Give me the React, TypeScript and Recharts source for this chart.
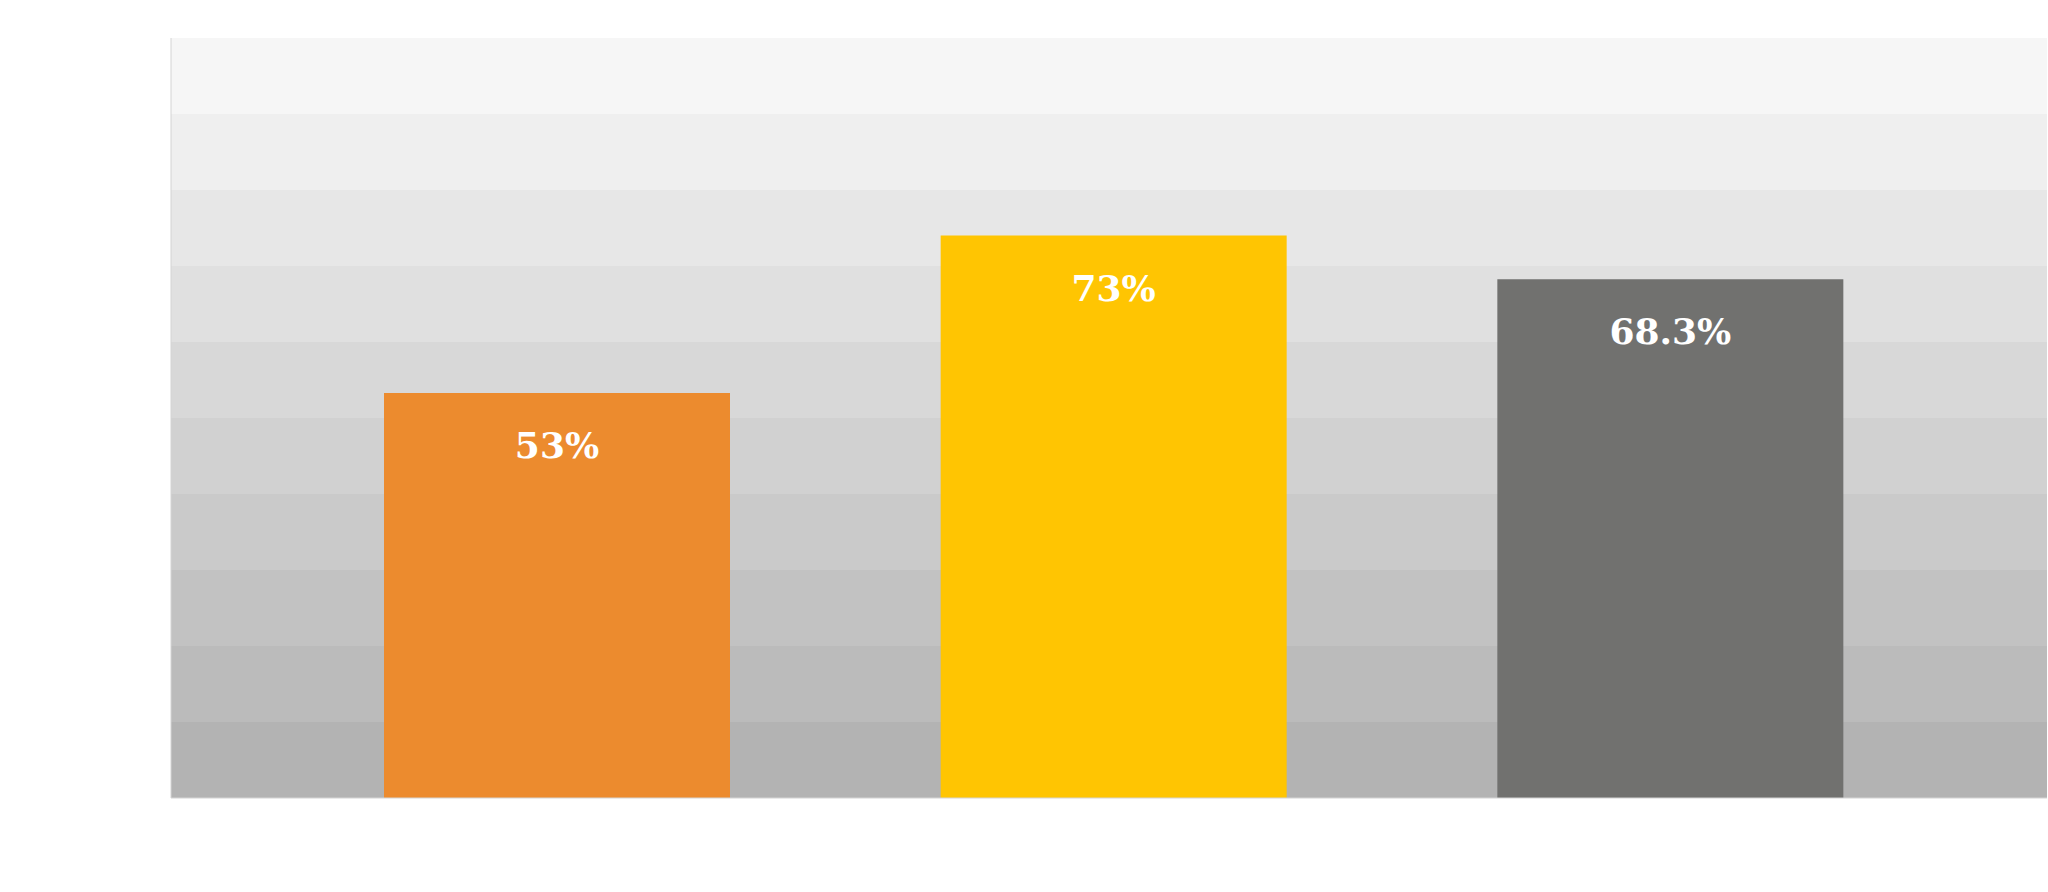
import React from 'react';
import { BarChart, Bar, XAxis, YAxis, CartesianGrid, Cell, LabelList } from 'recharts';

// categories have no visible names in the picture
const categories = ['A', 'B', 'C'];
const values = [53.3, 74, 68.25];
const valueLabels = ['53%', '73%', '68.3%'];
const barColors = ['#EC8B2E', '#FFC502', '#71716F'];
const yTicks = [0, 10, 20, 30, 40, 50, 60, 70, 80, 90, 100];
// stripe colours from top to bottom
const bandColors = ['#f6f6f6', '#efefef', '#e7e7e7', '#e0e0e0', '#d8d8d8', '#d1d1d1', '#cacaca', '#c2c2c2', '#bbbbbb', '#b3b3b3'];

const chartData = categories.map((name, i) => ({ name, value: values[i], label: valueLabels[i] }));

function BarLabel(props: any) {
  const { x, y, width, value } = props;
  return (
    <text
      x={x + width / 2}
      y={y + 52}
      textAnchor="middle"
      dominantBaseline="central"
      fill="#ffffff"
      fontFamily="'DejaVu Serif', serif"
      fontWeight="bold"
      fontSize={36}
    >
      {value}
    </text>
  );
}

const NoTick = () => <g />;

export default function App() {
  return (
    <div style={{ position: 'absolute', left: 0, top: 0, width: 2048, height: 892, background: '#ffffff' }}>
      <BarChart width={2048} height={892} data={chartData} margin={{ top: 38, right: 1, bottom: 64, left: 0 }}>
        <CartesianGrid
          vertical={false}
          horizontal={true}
          stroke="none"
          horizontalFill={bandColors}
          fillOpacity={1}
        />
        <XAxis
          dataKey="name"
          tick={false}
          tickLine={false}
          height={30}
          padding={{ left: 108, right: 98 }}
          axisLine={{ stroke: '#d4d4d4', strokeWidth: 1 }}
        />
        <YAxis
          width={171}
          domain={[0, 100]}
          ticks={yTicks}
          interval={0}
          tick={<NoTick />}
          tickLine={false}
          axisLine={{ stroke: '#d4d4d4', strokeWidth: 1 }}
        />
        <Bar dataKey="value" barSize={346} isAnimationActive={false}>
          {chartData.map((d, i) => (
            <Cell key={d.name} fill={barColors[i]} />
          ))}
          <LabelList dataKey="label" content={<BarLabel />} />
        </Bar>
      </BarChart>
    </div>
  );
}
